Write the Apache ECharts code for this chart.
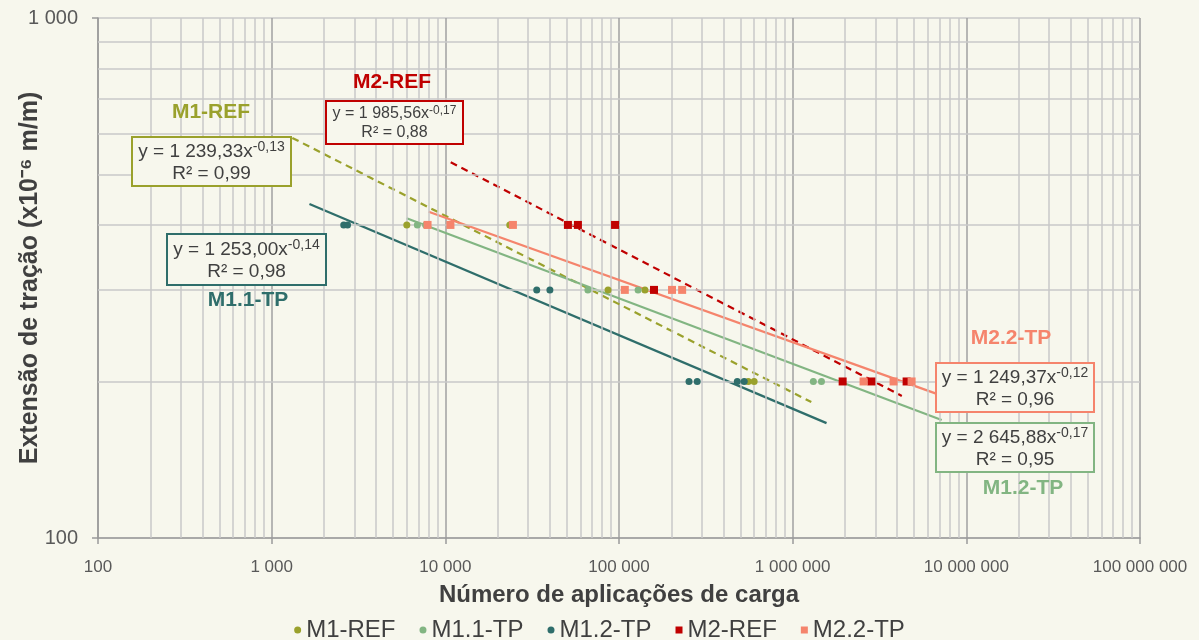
<!DOCTYPE html>
<html>
<head>
<meta charset="utf-8">
<script src="https://cdn.jsdelivr.net/npm/echarts@6/dist/echarts.min.js"></script>
<style>
  html, body { margin: 0; padding: 0; background: #f7f7ed; }
  #chart { width: 1199px; height: 640px; }
</style>
</head>
<body>
<div id="chart"></div>
<script>
// pontos: [aplicações de carga, extensão]
var m1Ref = [[6000, 400], [23500, 400], [86500, 300], [141000, 300], [555000, 200], [600000, 200]];
var m11Tp = [[6900, 400], [7700, 400], [66200, 300], [128800, 300], [1315000, 200], [1465000, 200]];
var m12Tp = [[2600, 400], [2735, 400], [33600, 300], [40000, 300], [253000, 200], [282000, 200], [480000, 200], [526000, 200]];
var m2Ref = [[50800, 400], [58000, 400], [94900, 400], [159000, 300], [1940000, 200], [2840000, 200], [4530000, 200]];
var m22Tp = [[7900, 400], [10700, 400], [24500, 400], [108000, 300], [202000, 300], [231000, 300], [2560000, 200], [3810000, 200], [4840000, 200]];

// linhas de tendência (extremos)
var trendM1Ref = [[1315, 588], [1280000, 182.6]];
var trendM2Ref = [[10740, 528], [4250000, 187.6]];
var trendM11 = [[1650, 439], [1567000, 166.3]];
var trendM12 = [[5985, 412], [7210000, 168.6]];
var trendM22 = [[8017, 424], [6760000, 189.3]];

var xMinorGrid = [200, 300, 400, 500, 600, 700, 800, 900,
  2000, 3000, 4000, 5000, 6000, 7000, 8000, 9000,
  20000, 30000, 40000, 50000, 60000, 70000, 80000, 90000,
  200000, 300000, 400000, 500000, 600000, 700000, 800000, 900000,
  2000000, 3000000, 4000000, 5000000, 6000000, 7000000, 8000000, 9000000,
  20000000, 30000000, 40000000, 50000000, 60000000, 70000000, 80000000, 90000000];
var yMinorGrid = [200, 300, 400, 500, 600, 700, 800, 900];

var cOlive = '#9aa12c';
var cLightGreen = '#82b582';
var cTeal = '#2f6e6b';
var cRed = '#c00000';
var cSalmon = '#f5846c';

var FONT = "'Liberation Sans', Arial, sans-serif";

function fmt(v) {
  return String(Math.round(v)).replace(/\B(?=(\d{3})+(?!\d))/g, ' ');
}

function eqBox(x, y, w, h, color, coef, expo, r2, fs) {
  return {
    type: 'group',
    left: x, top: y, z: 100,
    children: [
      { type: 'rect', z: 100, shape: { x: 0, y: 0, width: w, height: h },
        style: { fill: '#f7f7ed', stroke: color, lineWidth: 2 } },
      { type: 'text', z: 101, x: w / 2, y: h / 2 + 1,
        style: {
          text: 'y = ' + coef + 'x{sup|' + expo + '}\nR² = ' + r2,
          fill: '#404040', font: fs + 'px ' + FONT, align: 'center', verticalAlign: 'middle',
          lineHeight: fs + 3,
          rich: { sup: { fontSize: Math.round(fs * 0.72), fill: '#404040', verticalAlign: 'top', padding: [0, 0, Math.round(fs * 0.4), 0] } }
        } }
    ]
  };
}

function title(cx, cy, txt, color) {
  return { type: 'text', x: cx, y: cy, z: 100,
    style: { text: txt, fill: color, font: 'bold 21px ' + FONT, align: 'center', verticalAlign: 'middle' } };
}

function trend(data, color, dashed) {
  return { type: 'line', data: data, symbol: 'none', silent: true, z: 3,
    lineStyle: { color: color, width: 2.2, type: dashed ? [7, 5] : 'solid' } };
}

function scatter(name, data, color, symbol, size) {
  return { name: name, type: 'scatter', data: data, symbol: symbol, symbolSize: size, z: 5,
    itemStyle: { color: color, opacity: 1 } };
}

var chart = echarts.init(document.getElementById('chart'));
var option = {
  backgroundColor: '#f7f7ed',
  animation: false,
  textStyle: { fontFamily: FONT },
  grid: { left: 98, right: 59, top: 18, bottom: 102, containLabel: false, outerBoundsMode: 'none' },
  xAxis: {
    type: 'log', logBase: 10, min: 100, max: 100000000, splitNumber: 7,
    name: 'Número de aplicações de carga', nameLocation: 'middle', nameGap: 45, nameMoveOverlap: false,
    nameTextStyle: { fontSize: 24, fontWeight: 'bold', color: '#404040', fontFamily: FONT },
    axisLine: { lineStyle: { color: '#9a9a9a', width: 1.5 } },
    axisTick: { show: true, length: 6, lineStyle: { color: '#9a9a9a', width: 1.5 } },
    axisLabel: { fontSize: 17, color: '#595959', margin: 21, formatter: fmt },
    splitLine: { lineStyle: { color: '#a0a0a0', width: 1.5 } }
  },
  yAxis: {
    type: 'log', logBase: 10, min: 100, max: 1000,
    name: 'Extensão de tração (x10⁻⁶ m/m)', nameLocation: 'middle', nameGap: 55, nameRotate: 90, nameMoveOverlap: false,
    nameTextStyle: { fontSize: 25, fontWeight: 'bold', color: '#404040', fontFamily: FONT },
    axisLine: { lineStyle: { color: '#9a9a9a', width: 1.5 } },
    axisTick: { show: true, length: 6, lineStyle: { color: '#9a9a9a', width: 1.5 } },
    axisLabel: { fontSize: 20, color: '#595959', margin: 20, formatter: fmt },
    splitLine: { lineStyle: { color: '#c8c8c8', width: 1.5 } }
  },
  legend: {
    bottom: -7, left: 'center', itemGap: 24, itemWidth: 7, itemHeight: 7,
    textStyle: { fontSize: 24, color: '#404040', fontFamily: FONT },
    data: [
      { name: 'M1-REF', icon: 'circle' },
      { name: 'M1.1-TP', icon: 'circle' },
      { name: 'M1.2-TP', icon: 'circle' },
      { name: 'M2-REF', icon: 'rect' },
      { name: 'M2.2-TP', icon: 'rect' }
    ]
  },
  series: [
    { type: 'line', data: [], silent: true, z: 1,
      markLine: { silent: true, symbol: 'none', label: { show: false },
        lineStyle: { color: '#c8c8c8', width: 1.5, type: 'solid' },
        data: xMinorGrid.map(function (v) { return { xAxis: v }; })
          .concat(yMinorGrid.map(function (v) { return { yAxis: v }; })) } },
    trend(trendM1Ref, cOlive, true),
    trend(trendM2Ref, cRed, true),
    trend(trendM11, cTeal, false),
    trend(trendM12, cLightGreen, false),
    trend(trendM22, cSalmon, false),
    scatter('M1-REF', m1Ref, cOlive, 'circle', 7),
    scatter('M1.1-TP', m11Tp, cLightGreen, 'circle', 7),
    scatter('M1.2-TP', m12Tp, cTeal, 'circle', 7),
    scatter('M2-REF', m2Ref, cRed, 'rect', 8),
    scatter('M2.2-TP', m22Tp, cSalmon, 'rect', 8)
  ],
  graphic: [
    title(211, 112, 'M1-REF', cOlive),
    eqBox(131, 136, 159, 49, cOlive, '1 239,33', '-0,13', '0,99', 19),
    title(392, 82, 'M2-REF', cRed),
    eqBox(325, 100, 137, 43, cRed, '1 985,56', '-0,17', '0,88', 16),
    eqBox(166, 233, 159, 51, cTeal, '1 253,00', '-0,14', '0,98', 19),
    title(248, 300, 'M1.1-TP', cTeal),
    title(1011, 338, 'M2.2-TP', cSalmon),
    eqBox(935, 362, 158, 49, cSalmon, '1 249,37', '-0,12', '0,96', 19),
    eqBox(935, 422, 158, 49, cLightGreen, '2 645,88', '-0,17', '0,95', 19),
    title(1023, 488, 'M1.2-TP', cLightGreen)
  ]
};
chart.setOption(option);
window.addEventListener('resize', function () { chart.resize(); });
</script>
</body>
</html>
